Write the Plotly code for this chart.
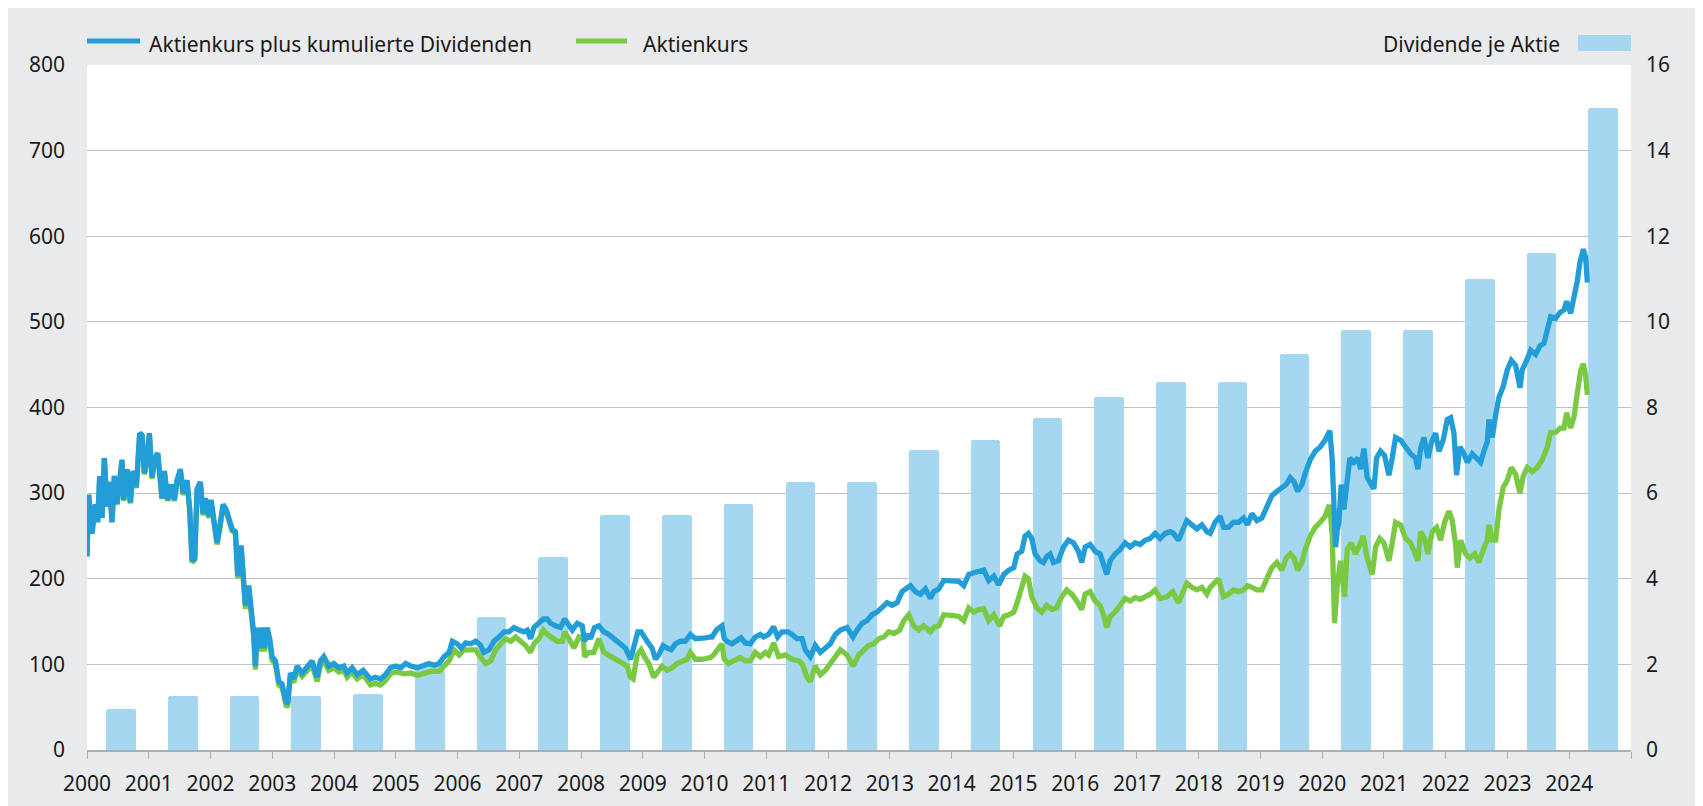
import plotly.graph_objects as go

# ---------------- data ----------------
years = list(range(2000, 2025))
dividends = [0.95, 1.25, 1.25, 1.25, 1.3, 2.0, 3.1, 4.5, 5.5, 5.5, 5.75, 6.25, 6.25,
             7.0, 7.25, 7.75, 8.25, 8.6, 8.6, 9.25, 9.8, 9.8, 11.0, 11.6, 15.0]

t_total = [
    2000.000, 2000.027, 2000.081, 2000.135, 2000.173, 2000.205, 2000.243, 2000.281, 2000.324, 2000.367,
    2000.405, 2000.443, 2000.486, 2000.529, 2000.567, 2000.594, 2000.648, 2000.702, 2000.745, 2000.799,
    2000.853, 2000.891, 2000.929, 2000.972, 2001.010, 2001.053, 2001.091, 2001.145, 2001.177, 2001.215,
    2001.253, 2001.307, 2001.361, 2001.415, 2001.458, 2001.512, 2001.555, 2001.620, 2001.663, 2001.701,
    2001.744, 2001.782, 2001.836, 2001.879, 2001.917, 2001.971, 2002.009, 2002.052, 2002.106, 2002.149,
    2002.203, 2002.252, 2002.295, 2002.349, 2002.403, 2002.441, 2002.495, 2002.527, 2002.565, 2002.619,
    2002.657, 2002.700, 2002.727, 2002.754, 2002.797, 2002.835, 2002.873, 2002.916, 2002.959, 2002.997,
    2003.051, 2003.105, 2003.159, 2003.197, 2003.229, 2003.251, 2003.294, 2003.348, 2003.402, 2003.483,
    2003.564, 2003.645, 2003.726, 2003.780, 2003.834, 2003.915, 2003.996, 2004.077, 2004.158, 2004.212,
    2004.293, 2004.374, 2004.471, 2004.536, 2004.590, 2004.671, 2004.752, 2004.833, 2004.914, 2004.995,
    2005.081, 2005.162, 2005.243, 2005.350, 2005.458, 2005.539, 2005.620, 2005.701, 2005.782, 2005.862,
    2005.916, 2005.997, 2006.062, 2006.132, 2006.213, 2006.294, 2006.364, 2006.428, 2006.509, 2006.590,
    2006.671, 2006.752, 2006.833, 2006.913, 2006.994, 2007.075, 2007.129, 2007.183, 2007.237, 2007.318,
    2007.388, 2007.452, 2007.506, 2007.587, 2007.668, 2007.733, 2007.803, 2007.857, 2007.938, 2008.018,
    2008.056, 2008.099, 2008.153, 2008.218, 2008.288, 2008.369, 2008.450, 2008.530, 2008.638, 2008.719,
    2008.800, 2008.854, 2008.919, 2008.972, 2009.016, 2009.069, 2009.150, 2009.204, 2009.258, 2009.328,
    2009.393, 2009.458, 2009.528, 2009.608, 2009.689, 2009.770, 2009.851, 2009.932, 2010.013, 2010.094,
    2010.119, 2010.200, 2010.281, 2010.319, 2010.362, 2010.443, 2010.524, 2010.589, 2010.659, 2010.740,
    2010.821, 2010.902, 2010.956, 2011.037, 2011.118, 2011.183, 2011.253, 2011.345, 2011.415, 2011.496,
    2011.577, 2011.631, 2011.712, 2011.793, 2011.874, 2011.955, 2012.036, 2012.117, 2012.198, 2012.306,
    2012.403, 2012.468, 2012.549, 2012.630, 2012.711, 2012.792, 2012.873, 2012.954, 2013.035, 2013.116,
    2013.197, 2013.278, 2013.332, 2013.413, 2013.494, 2013.575, 2013.656, 2013.710, 2013.791, 2013.872,
    2013.953, 2014.034, 2014.115, 2014.196, 2014.277, 2014.358, 2014.439, 2014.520, 2014.601, 2014.682,
    2014.763, 2014.844, 2014.925, 2015.006, 2015.060, 2015.114,
    2015.135, 2015.189, 2015.243, 2015.297, 2015.351, 2015.432, 2015.486, 2015.540, 2015.594, 2015.648,
    2015.729, 2015.810, 2015.891, 2015.972, 2016.053, 2016.107, 2016.161, 2016.242, 2016.323, 2016.404,
    2016.458, 2016.512, 2016.566, 2016.647, 2016.728, 2016.809, 2016.890, 2016.971, 2017.052, 2017.133,
    2017.214, 2017.295, 2017.376, 2017.457, 2017.538, 2017.592, 2017.673, 2017.727, 2017.808, 2017.889,
    2017.970, 2018.051, 2018.132, 2018.186, 2018.267, 2018.348, 2018.402, 2018.483, 2018.564, 2018.645,
    2018.726, 2018.791, 2018.861, 2018.942, 2019.023, 2019.104, 2019.185, 2019.266, 2019.347, 2019.417,
    2019.482, 2019.547, 2019.601, 2019.671, 2019.725, 2019.806, 2019.887, 2019.968, 2020.049, 2020.103,
    2020.124, 2020.162, 2020.189, 2020.216, 2020.243, 2020.270, 2020.308, 2020.351, 2020.394, 2020.448,
    2020.513, 2020.578, 2020.621, 2020.675, 2020.729, 2020.783, 2020.837, 2020.880, 2020.945, 2021.010,
    2021.080, 2021.134, 2021.188, 2021.269, 2021.350, 2021.431, 2021.512, 2021.550, 2021.593, 2021.647,
    2021.712, 2021.771, 2021.836, 2021.890, 2021.960, 2022.025, 2022.079, 2022.133, 2022.176, 2022.230,
    2022.295, 2022.349, 2022.430, 2022.511, 2022.565, 2022.619, 2022.673, 2022.700, 2022.754, 2022.808,
    2022.862, 2022.932, 2022.997, 2023.062, 2023.132, 2023.202, 2023.240, 2023.310, 2023.375, 2023.456,
    2023.526, 2023.591, 2023.645, 2023.699, 2023.780, 2023.850, 2023.915, 2023.958, 2024.023, 2024.077,
    2024.131, 2024.174, 2024.228, 2024.266, 2024.293,
]
v_total = [
    226, 298, 253, 287, 266, 320, 271, 341, 284, 313,
    266, 320, 287, 323, 339, 292, 328, 289, 326, 307,
    370, 368, 323, 339, 370, 318, 339, 347, 326, 294,
    326, 292, 310, 292, 315, 328, 300, 315, 281, 221,
    224, 305, 313, 276, 294, 273, 292, 271, 242, 260,
    287, 281, 268, 258, 255, 203, 239, 200, 169, 192,
    164, 135, 98, 143, 119, 143, 119, 143, 130, 109,
    104, 80, 77, 62, 54, 56, 90, 83, 98, 90,
    98, 104, 85, 104, 109, 98, 101, 96, 98, 90,
    96, 88, 93, 88, 83, 85, 83, 88, 96, 98,
    96, 101, 98, 96, 98, 101, 99, 101, 109, 114,
    127, 124, 119, 125, 124, 127, 123, 114, 117, 127,
    132, 138, 138, 143, 140, 138, 140, 130, 143, 148,
    153, 153, 148, 145, 143, 153, 145, 140, 148, 145,
    127, 135, 130, 143, 145, 138, 135, 130, 124, 119,
    106, 119, 138, 138, 132, 127, 119, 106, 111, 122,
    119, 117, 124, 127, 127, 135, 130, 130, 131, 132,
    132, 141, 145, 130, 127, 124, 127, 131, 125, 124,
    132, 135, 132, 135, 144, 132, 138, 138, 135, 130,
    130, 117, 109, 122, 114, 119, 124, 135, 140, 143,
    132, 140, 148, 151, 158, 161, 166, 172, 169, 172,
    185, 190, 192, 185, 182, 188, 177, 185, 188, 198,
    198, 198, 197, 192, 205, 207, 209, 210, 198, 203,
    193, 205, 210, 213, 229, 232,
    232, 250, 253, 247, 229, 221, 219, 226, 229, 219,
    221, 237, 245, 242, 232, 219, 237, 240, 232, 229,
    219, 205, 221, 229, 234, 242, 237, 242, 240, 245,
    247, 253, 247, 253, 255, 253, 245, 255, 268, 263,
    258, 263, 255, 253, 266, 273, 260, 260, 266, 266,
    271, 263, 276, 268, 271, 284, 297, 302, 307, 310,
    318, 313, 302, 310, 323, 339, 349, 354, 362, 373,
    373, 339, 287, 237, 255, 266, 310, 281, 307, 341,
    336, 341, 328, 352, 318, 310, 305, 341, 349, 344,
    321, 341, 365, 362, 354, 346, 341, 328, 352, 365,
    341, 360, 370, 349, 362, 386, 388, 370, 321, 354,
    346, 336, 346, 339, 336, 349, 360, 386, 365, 391,
    412, 425, 444, 455, 449, 423, 444, 455, 467, 462,
    472, 475, 488, 506, 504, 511, 514, 524, 510, 527,
    548, 570, 585, 575, 546,
]

t_price = [
    2000.000, 2000.027, 2000.081, 2000.135, 2000.173, 2000.205, 2000.243, 2000.281, 2000.324, 2000.367,
    2000.405, 2000.443, 2000.486, 2000.529, 2000.567, 2000.594, 2000.648, 2000.702, 2000.745, 2000.799,
    2000.853, 2000.891, 2000.929, 2000.972, 2001.010, 2001.053, 2001.091, 2001.145, 2001.177, 2001.215,
    2001.253, 2001.307, 2001.361, 2001.415, 2001.458, 2001.512, 2001.555, 2001.620, 2001.663, 2001.701,
    2001.744, 2001.782, 2001.836, 2001.879, 2001.917, 2001.971, 2002.009, 2002.052, 2002.106, 2002.149,
    2002.203, 2002.252, 2002.295, 2002.349, 2002.403, 2002.441, 2002.495, 2002.527, 2002.565, 2002.619,
    2002.657, 2002.700, 2002.727, 2002.754, 2002.797, 2002.835, 2002.873, 2002.916, 2002.959, 2002.997,
    2003.051, 2003.105, 2003.159, 2003.197, 2003.229, 2003.251, 2003.294, 2003.348, 2003.402, 2003.483,
    2003.564, 2003.645, 2003.726, 2003.780, 2003.834, 2003.915, 2003.996, 2004.077, 2004.158, 2004.212,
    2004.293, 2004.374, 2004.471, 2004.536, 2004.590, 2004.671, 2004.752, 2004.833, 2004.914, 2004.995,
    2005.027, 2005.135, 2005.243, 2005.350, 2005.458, 2005.566, 2005.701, 2005.782, 2005.862, 2005.943,
    2006.024, 2006.105, 2006.213, 2006.294, 2006.364, 2006.455, 2006.536, 2006.617, 2006.698, 2006.779,
    2006.860, 2006.940, 2007.021, 2007.102, 2007.183, 2007.237, 2007.318, 2007.388, 2007.452, 2007.533,
    2007.614, 2007.695, 2007.733, 2007.803, 2007.884, 2007.965, 2008.035, 2008.056, 2008.126, 2008.207,
    2008.288, 2008.369, 2008.477, 2008.584, 2008.665, 2008.746, 2008.800, 2008.843, 2008.908, 2008.972,
    2009.026, 2009.096, 2009.177, 2009.231, 2009.312, 2009.393, 2009.474, 2009.555, 2009.635, 2009.716,
    2009.770, 2009.851, 2009.959, 2010.094,
    2010.146, 2010.227, 2010.281, 2010.319, 2010.389, 2010.470, 2010.578, 2010.659, 2010.740, 2010.821,
    2010.902, 2010.983, 2011.037, 2011.118, 2011.199, 2011.307, 2011.415, 2011.523, 2011.577, 2011.658,
    2011.712, 2011.793, 2011.874, 2011.955, 2012.036, 2012.117, 2012.198, 2012.306, 2012.403, 2012.495,
    2012.576, 2012.657, 2012.738, 2012.819, 2012.900, 2012.981, 2013.062, 2013.159, 2013.224, 2013.305,
    2013.386, 2013.467, 2013.548, 2013.656, 2013.710, 2013.791, 2013.872, 2013.953, 2014.034, 2014.115,
    2014.196, 2014.277, 2014.358, 2014.439, 2014.520, 2014.601, 2014.682, 2014.774, 2014.844, 2014.925,
    2015.006, 2015.060, 2015.114,
    2015.135, 2015.189, 2015.243, 2015.297, 2015.378, 2015.459, 2015.540, 2015.621, 2015.702, 2015.783,
    2015.864, 2015.945, 2016.026, 2016.107, 2016.161, 2016.242, 2016.323, 2016.404, 2016.458, 2016.512,
    2016.566, 2016.647, 2016.728, 2016.809, 2016.890, 2016.971, 2017.052, 2017.133, 2017.214, 2017.295,
    2017.376, 2017.484, 2017.581, 2017.673, 2017.743, 2017.808, 2017.889, 2017.970, 2018.051, 2018.132,
    2018.186, 2018.267, 2018.321, 2018.402, 2018.483, 2018.564, 2018.645, 2018.726, 2018.791, 2018.861,
    2018.942, 2019.023, 2019.104, 2019.185, 2019.266, 2019.347, 2019.417, 2019.482, 2019.547, 2019.601,
    2019.671, 2019.725, 2019.806, 2019.887, 2019.968, 2020.049, 2020.103,
    2020.124, 2020.162, 2020.200, 2020.243, 2020.297, 2020.362, 2020.405, 2020.470, 2020.540, 2020.610,
    2020.664, 2020.729, 2020.810, 2020.864, 2020.934, 2020.999, 2021.080, 2021.134, 2021.188, 2021.269,
    2021.350, 2021.431, 2021.496, 2021.550, 2021.593, 2021.658, 2021.712, 2021.782, 2021.852, 2021.917,
    2021.982, 2022.052, 2022.106, 2022.160, 2022.187, 2022.241, 2022.322, 2022.392, 2022.468, 2022.538,
    2022.608, 2022.673, 2022.700, 2022.754, 2022.808, 2022.862, 2022.932, 2022.997, 2023.062, 2023.132,
    2023.202, 2023.256, 2023.321, 2023.402, 2023.483, 2023.564, 2023.645, 2023.699, 2023.780, 2023.850,
    2023.915, 2023.958, 2024.023, 2024.077, 2024.131, 2024.185, 2024.228, 2024.266, 2024.293,
]
v_price = [
    226, 298, 253, 287, 266, 320, 271, 341, 284, 313,
    266, 320, 287, 322, 338, 291, 327, 288, 325, 306,
    369, 367, 322, 338, 369, 317, 338, 346, 325, 293,
    325, 291, 309, 291, 314, 326, 298, 313, 279, 219,
    222, 303, 311, 274, 292, 271, 290, 269, 240, 258,
    285, 279, 266, 256, 253, 201, 237, 196, 165, 188,
    160, 131, 94, 139, 115, 139, 115, 139, 126, 105,
    100, 76, 73, 58, 50, 52, 86, 79, 94, 86,
    93, 99, 80, 99, 104, 93, 96, 91, 93, 85,
    91, 83, 88, 81, 76, 78, 76, 81, 89, 91,
    91, 89, 90, 87, 89, 92, 92, 98, 104, 117,
    111, 117, 117, 117, 109, 101, 104, 117, 124, 130,
    127, 132, 127, 122, 114, 124, 130, 140, 135, 130,
    127, 127, 138, 130, 119, 132, 130, 109, 114, 114,
    130, 114, 109, 104, 101, 98, 85, 83, 111, 117,
    109, 101, 85, 90, 98, 93, 96, 101, 104, 106,
    114, 106, 106, 108,
    111, 120, 124, 106, 101, 104, 108, 104, 104, 114,
    109, 114, 111, 125, 109, 111, 106, 104, 101, 85,
    80, 98, 88, 93, 101, 111, 117, 111, 98, 111,
    117, 122, 124, 130, 132, 138, 136, 140, 151, 158,
    145, 140, 145, 138, 143, 145, 158, 158, 157, 156,
    151, 166, 161, 164, 165, 151, 158, 145, 156, 158,
    161, 172, 185,
    185, 203, 200, 179, 166, 161, 169, 164, 166, 179,
    187, 182, 174, 164, 182, 185, 174, 169, 158, 143,
    156, 161, 169, 177, 174, 178, 176, 179, 182, 187,
    177, 179, 185, 172, 185, 195, 190, 187, 190, 182,
    190, 195, 200, 179, 182, 187, 185, 187, 192, 190,
    187, 187, 200, 213, 219, 210, 224, 229, 224, 210,
    219, 234, 250, 260, 266, 273, 284,
    284, 250, 148, 192, 221, 179, 234, 242, 229, 240,
    250, 224, 205, 237, 247, 242, 221, 242, 266, 263,
    247, 242, 230, 221, 255, 247, 229, 255, 260, 245,
    266, 279, 268, 240, 213, 245, 229, 224, 229, 219,
    234, 245, 263, 245, 245, 281, 307, 315, 330, 322,
    300, 320, 330, 325, 330, 339, 354, 371, 371, 376,
    376, 394, 376, 389, 417, 443, 451, 437, 415,
]

x_ticks = list(range(2000, 2026))
x_ticktext = [str(y) for y in range(2000, 2025)] + [""]

name_total = "Aktienkurs plus kumulierte Dividenden"
name_price = "Aktienkurs"
name_div = "Dividende je Aktie"

# ---------------- styling ----------------
W, H = 1703, 806
OFF = 8                      # page margin of the browser body
L, R, T, B = 79, 80, 57, 64
PW, PH = W - L - R, H - T - B
BLUE = "#229DD8"
GREEN = "#7AC943"
BAR = "#A6D7F1"
BG = "#E9EAEC"
GRID = "#BAC1C8"
AXIS = "#A9AFB5"
TXT = "#1A1A1A"
FONT = "Noto Sans"
FS = 21


def px(xs):
    """screen x (px) -> paper x"""
    return (xs - OFF - L) / PW


def py(ys):
    """screen y (px) -> paper y"""
    return (H - B - (ys - OFF)) / PH


fig = go.Figure()
fig.add_trace(go.Bar(
    x=[y + 0.55 for y in years], y=dividends, width=0.48, name=name_div,
    marker=dict(color=BAR, line=dict(width=0), cornerradius=3), yaxis="y",
))
fig.add_trace(go.Scatter(
    x=t_price, y=v_price, mode="lines", name=name_price,
    line=dict(color=GREEN, width=5.3), yaxis="y2",
))
fig.add_trace(go.Scatter(
    x=t_total, y=v_total, mode="lines", name=name_total,
    line=dict(color=BLUE, width=5.3), yaxis="y2",
))

shapes = [
    dict(type="line", xref="paper", yref="paper", x0=px(87), x1=px(140), y0=py(41), y1=py(41),
         line=dict(color=BLUE, width=4.8)),
    dict(type="line", xref="paper", yref="paper", x0=px(576), x1=px(627), y0=py(41), y1=py(41),
         line=dict(color=GREEN, width=4.8)),
    dict(type="rect", xref="paper", yref="paper", x0=px(1578), x1=px(1631), y0=py(51), y1=py(35),
         fillcolor=BAR, line=dict(width=0)),
]
annotations = [
    dict(xref="paper", yref="paper", x=px(147), y=py(44), text=name_total, showarrow=False,
         xanchor="left", yanchor="middle", font=dict(size=FS, color=TXT, family=FONT)),
    dict(xref="paper", yref="paper", x=px(641), y=py(44), text=name_price, showarrow=False,
         xanchor="left", yanchor="middle", font=dict(size=FS, color=TXT, family=FONT)),
    dict(xref="paper", yref="paper", x=px(1562), y=py(44), text=name_div, showarrow=False,
         xanchor="right", yanchor="middle", font=dict(size=FS, color=TXT, family=FONT)),
]

fig.update_layout(
    width=W, height=H,
    margin=dict(l=L, r=R, t=T, b=B, pad=0, autoexpand=False),
    paper_bgcolor=BG, plot_bgcolor="white",
    font=dict(family=FONT, size=FS, color=TXT),
    showlegend=False, bargap=0,
    shapes=shapes, annotations=annotations,
    xaxis=dict(range=[2000, 2025], tickmode="array", tickvals=x_ticks, ticktext=x_ticktext,
               ticks="outside", ticklen=7, tickwidth=1.2, tickcolor=AXIS,
               showline=True, linecolor=AXIS, linewidth=1.5,
               showgrid=False, zeroline=False, ticklabelstandoff=7, fixedrange=True),
    yaxis=dict(range=[0, 16], tickmode="linear", tick0=0, dtick=2, side="right",
               showgrid=True, gridcolor=GRID, gridwidth=1.3, zeroline=False,
               showline=False, ticks="", ticklabelstandoff=14),
    yaxis2=dict(range=[0, 800], tickmode="linear", tick0=0, dtick=100, side="left",
                overlaying="y", showgrid=False, zeroline=False, showline=False,
                ticks="", ticklabelstandoff=21),
)

fig.write_html("out.html")
